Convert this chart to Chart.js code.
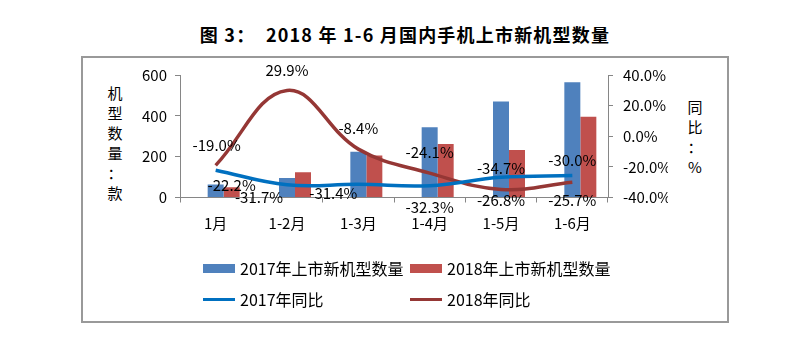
<!DOCTYPE html>
<html>
<head>
<meta charset="utf-8">
<script src="https://cdn.jsdelivr.net/npm/chart.js@4"></script>
<style>
  body { margin: 0; background: #fff; font-family: "Noto Sans CJK SC", sans-serif; }
  #wrap { position: relative; width: 810px; height: 352px; overflow: hidden; }
  #title { position: absolute; left: 0; width: 810px; top: 20px; text-align: center;
           font-size: 18px; font-weight: bold; letter-spacing: 1.2px; line-height: 28px; }
  #frame { position: absolute; left: 81px; top: 56px; width: 644px; height: 263px; border: 2px solid #999; }
  .axtitle { position: absolute; font-size: 15px; line-height: 20px; width: 20px; text-align: center; }
  #legend { position: absolute; left: 203px; top: 257px; font-size: 16px; }
  .item { position: absolute; white-space: nowrap; display: flex; align-items: center; height: 22px; }
  .sw { display: inline-block; width: 32px; margin-right: 5px; }
  canvas { position: absolute; left: 0; top: 0; }
</style>
</head>
<body>
<div id="wrap">
  <div id="title">图 3：&nbsp; 2018 年 1-6 月国内手机上市新机型数量</div>
  <div id="frame"></div>
  <div class="axtitle" style="left:105px; top:83px;">机<br>型<br>数<br>量<br>：<br>款</div>
  <div class="axtitle" style="left:685px; top:97px;">同<br>比<br>：<br>%</div>
  <canvas id="c" width="810" height="352"></canvas>
  <div id="legend"></div>
</div>
<script>
var categories = ['1月', '1-2月', '1-3月', '1-4月', '1-5月', '1-6月'];
var models2017 = [64, 96, 224, 344, 470, 565];
var models2018 = [50, 124, 206, 262, 233, 395];
var yoy2017 = [-22.2, -31.7, -31.4, -32.3, -26.8, -25.7];
var yoy2018 = [-19.0, 29.9, -8.4, -24.1, -34.7, -30.0];
var leftTicks = [0, 200, 400, 600];
var rightTicks = [-40, -20, 0, 20, 40];

// label offsets from each point, in px
var shift2017 = [[16, 15], [-28, 13], [-25, 9], [0, 22], [0, 23], [0, 25]];
var shift2018 = [[1, -20], [0, -20], [0, -21], [0, -21], [0, -21], [0, -22]];

var BLUE_BAR = '#4F81BD', RED_BAR = '#C0504D', BLUE_LINE = '#0070C0', RED_LINE = '#953735';
var axisColor = '#868686';
var fontFam = '"Noto Sans CJK SC", sans-serif';

var pointLabels = {
  id: 'pointLabels',
  afterDatasetsDraw: function (chart) {
    var ctx = chart.ctx;
    ctx.save();
    ctx.font = '15px ' + fontFam;
    ctx.fillStyle = '#000';
    ctx.textAlign = 'center';
    ctx.textBaseline = 'middle';
    chart.data.datasets.forEach(function (ds, i) {
      if (!ds.labelShift) return;
      chart.getDatasetMeta(i).data.forEach(function (pt, j) {
        var s = ds.labelShift[j];
        ctx.fillText(ds.data[j].toFixed(1) + '%', pt.x + s[0], pt.y + s[1]);
      });
    });
    ctx.restore();
  }
};

var chart = new Chart(document.getElementById('c'), {
  type: 'bar',
  data: {
    labels: categories,
    datasets: [
      { label: '', data: categories.map(function () { return null; }), order: 1, yAxisID: 'y' },
      { label: '2017年上市新机型数量', data: models2017, backgroundColor: BLUE_BAR, order: 1, yAxisID: 'y' },
      { label: '2018年上市新机型数量', data: models2018, backgroundColor: RED_BAR, order: 1, yAxisID: 'y' },
      { type: 'line', label: '2017年同比', data: yoy2017, borderColor: BLUE_LINE, borderWidth: 3.5,
        pointRadius: 0, tension: 0.4, order: 0, yAxisID: 'y1', labelShift: shift2017 },
      { type: 'line', label: '2018年同比', data: yoy2018, borderColor: RED_LINE, borderWidth: 3.5,
        pointRadius: 0, tension: 0.4, order: 0, yAxisID: 'y1', labelShift: shift2018 }
    ]
  },
  options: {
    responsive: false,
    animation: false,
    layout: { padding: { left: 130, right: 142, top: 75, bottom: 114.5 } },
    datasets: { bar: { categoryPercentage: 0.673, barPercentage: 1 } },
    plugins: { legend: { display: false }, tooltip: { enabled: false } },
    scales: {
      x: {
        offset: true,
        grid: { drawOnChartArea: false, tickLength: 5, color: axisColor, offset: true },
        border: { color: axisColor },
        ticks: { color: '#000', font: { size: 15, family: fontFam }, padding: 12, maxRotation: 0 },
        afterFit: function (s) { s.height = 40; }
      },
      y: {
        position: 'left', min: 0, max: 600,
        afterBuildTicks: function (s) { s.ticks = leftTicks.map(function (v) { return { value: v }; }); },
        grid: { drawOnChartArea: false, tickLength: 5, color: axisColor },
        border: { color: axisColor },
        ticks: { color: '#000', font: { size: 15, family: fontFam }, padding: 8 },
        afterFit: function (s) { s.width = 50; }
      },
      y1: {
        position: 'right', min: -40, max: 40,
        afterBuildTicks: function (s) { s.ticks = rightTicks.map(function (v) { return { value: v }; }); },
        grid: { drawOnChartArea: false, tickLength: 5, color: axisColor },
        border: { color: axisColor },
        ticks: { color: '#000', font: { size: 15, family: fontFam }, padding: 10,
                 callback: function (v) { return v.toFixed(1) + '%'; } },
        afterFit: function (s) { s.width = 60; }
      }
    }
  },
  plugins: [pointLabels]
});

// legend built from the datasets
var legend = document.getElementById('legend');
var cols = [0, 207];
chart.data.datasets.slice(1).forEach(function (ds, k) {
  var item = document.createElement('div');
  item.className = 'item';
  item.style.left = cols[k % 2] + 'px';
  item.style.top = (Math.floor(k / 2) * 31) + 'px';
  var sw = document.createElement('span');
  sw.className = 'sw';
  if (ds.type === 'line') { sw.style.height = '3px'; sw.style.background = ds.borderColor; }
  else { sw.style.height = '9px'; sw.style.background = ds.backgroundColor; }
  item.appendChild(sw);
  item.appendChild(document.createTextNode(ds.label));
  legend.appendChild(item);
});
</script>
</body>
</html>
